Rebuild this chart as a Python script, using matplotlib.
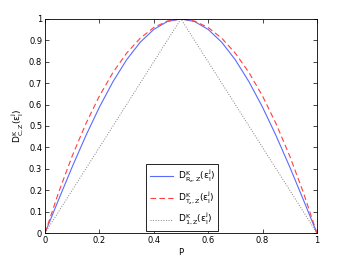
import matplotlib
matplotlib.use('Agg')
import matplotlib.pyplot as plt

plt.rcParams['mathtext.default'] = 'regular'

# values
p = [0.0, 0.05, 0.1, 0.15, 0.2, 0.25, 0.3, 0.35, 0.4, 0.45, 0.5,
     0.55, 0.6, 0.65, 0.7, 0.75, 0.8, 0.85, 0.9, 0.95, 1.0]
d_rz = [0.0, 0.156, 0.309, 0.454, 0.588, 0.707, 0.809, 0.891, 0.951, 0.988, 1.0,
        0.988, 0.951, 0.891, 0.809, 0.707, 0.588, 0.454, 0.309, 0.156, 0.0]
d_tz = [0.0, 0.19, 0.36, 0.51, 0.64, 0.75, 0.84, 0.91, 0.96, 0.99, 1.0,
        0.99, 0.96, 0.91, 0.84, 0.75, 0.64, 0.51, 0.36, 0.19, 0.0]
d_1z = [0.0, 0.1, 0.2, 0.3, 0.4, 0.5, 0.6, 0.7, 0.8, 0.9, 1.0,
        0.9, 0.8, 0.7, 0.6, 0.5, 0.4, 0.3, 0.2, 0.1, 0.0]

labels = [r'$D^K_{R_z,Z}(\epsilon^j_l)$',
          r'$D^K_{T_z,Z}(\epsilon^j_l)$',
          r'$D^K_{1,Z}(\epsilon^j_l)$']

fig = plt.figure(figsize=(3.49, 2.63), dpi=100)
ax = fig.add_axes([0.129, 0.114, 0.779, 0.814])

ax.plot(p, d_rz, '-', color='#5a6bff', lw=0.8, label=labels[0])
ax.plot(p, d_tz, '--', color='#ff4040', lw=0.8, dashes=(5, 3), label=labels[1])
ax.plot(p, d_1z, ':', color='#808080', lw=0.7, label=labels[2])

ax.set_xlim(0, 1)
ax.set_ylim(0, 1)
ax.set_xticks([0, 0.2, 0.4, 0.6, 0.8, 1])
ax.set_xticklabels(['0', '0.2', '0.4', '0.6', '0.8', '1'])
ax.set_yticks([i / 10 for i in range(11)])
ax.set_yticklabels(['0', '0.1', '0.2', '0.3', '0.4', '0.5', '0.6', '0.7', '0.8', '0.9', '1'])
ax.tick_params(direction='in', length=3, width=0.5, labelsize=6,
               top=True, right=True, pad=2)
for s in ax.spines.values():
    s.set_linewidth(0.6)

ax.set_xlabel('P', fontsize=6, labelpad=2)
ax.set_ylabel(r'$D^K_{C,Z}(\epsilon^j_l)$', fontsize=6.5, labelpad=2)

leg = ax.legend(loc='lower center', bbox_to_anchor=(0.505, 0.005), fontsize=6.5,
                fancybox=False, edgecolor='black', framealpha=1,
                handlelength=2.6, handletextpad=0.5, borderpad=0.4,
                labelspacing=0.5, borderaxespad=0.1)
leg.get_frame().set_linewidth(0.6)

fig.savefig('out.png', dpi=100)
